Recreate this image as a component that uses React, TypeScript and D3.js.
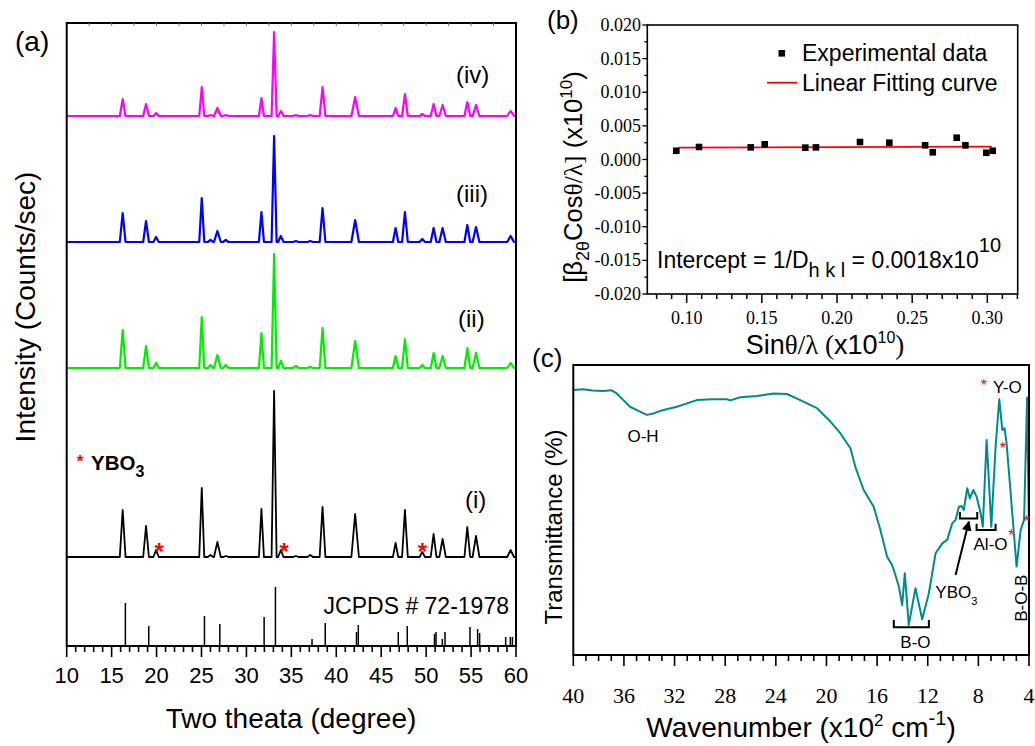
import React from "react";
import * as d3 from "d3";

const SANS = "Liberation Sans, Arial, Helvetica, sans-serif";
const SERIF = "Liberation Serif, Times New Roman, serif";

// ---------- Panel (a): XRD ----------
const peakPositions = [16.23, 18.83, 19.95, 25.03, 26.0, 26.77, 27.7, 31.67, 33.08, 33.83, 35.5, 37.1, 38.47, 42.1, 46.6, 47.64, 49.57, 50.83, 51.83, 54.58, 55.55, 59.4];
const peakHalfWidths = [0.32, 0.32, 0.3, 0.28, 0.3, 0.38, 0.3, 0.28, 0.28, 0.3, 0.3, 0.3, 0.32, 0.42, 0.3, 0.32, 0.3, 0.32, 0.36, 0.32, 0.38, 0.38];
const heightsI = [47, 31, 7, 69, 2, 15, 1, 48, 166, 7, 1, 2, 50, 43, 14, 47, 5, 23, 18, 30, 21, 7];
const heightsII = [38, 22, 5, 51, 3, 13, 3, 35, 114, 7, 2, 1, 40, 27, 12, 29, 3, 15, 12, 20, 15, 5];
const heightsIII = [29, 21, 5, 44, 2, 11, 2, 30, 106, 6, 1, 1, 34, 22, 14, 30, 3, 14, 14, 17, 15, 6];
const heightsIV = [17, 12, 3, 29, 1, 8, 1, 18, 84, 5, 1, 1, 29, 19, 8, 22, 2, 12, 11, 14, 11, 5];
const traceOffsets = [89, 278, 404, 530];
const traceColors = ["#000000", "#00ee00", "#0000ff", "#ff00ff"];
const traceLabels = ["(i)", "(ii)", "(iii)", "(iv)"];

const jcpdsPositions = [16.53, 19.13, 25.33, 27.04, 31.97, 33.23, 37.3, 38.77, 42.25, 42.45, 46.9, 47.9, 50.93, 51.1, 51.8, 52.1, 54.88, 55.73, 55.95, 58.85, 59.37, 59.6];
const jcpdsHeights = [43, 20, 30, 22, 29, 59, 7, 23, 14, 21, 14, 20, 12, 14, 7, 14, 19, 17, 13, 9, 9, 9];
const yboStarPositions = [20.3, 34.2, 49.6];
const xrdTicks = [10, 15, 20, 25, 30, 35, 40, 45, 50, 55, 60];

// ---------- Panel (b): Williamson-Hall ----------
const whX = [0.0931, 0.1082, 0.1426, 0.1519, 0.1789, 0.186, 0.2153, 0.2348, 0.2586, 0.2637, 0.2796, 0.2854, 0.2993, 0.3036];
const whY = [0.0013, 0.00186, 0.0018, 0.00226, 0.00176, 0.0018, 0.0026, 0.0025, 0.00211, 0.00107, 0.00324, 0.0021, 0.001, 0.0013];
const fitX = [0.0945, 0.303];
const fitY = [0.00178, 0.0019];
const whYTicks = [-0.02, -0.015, -0.01, -0.005, 0, 0.005, 0.01, 0.015, 0.02];
const whXTicks = [0.1, 0.15, 0.2, 0.25, 0.3];

// ---------- Panel (c): FTIR ----------
const ftirWavenumber = [40, 39.2, 38.5, 37.63, 37.0, 36.57, 36.04, 35.52, 34.73, 34.2, 33.67, 32.88, 31.82, 30.24, 29.0, 27.87, 27.6, 26.81, 25.5, 24.18, 23.12, 22.07, 20.75, 19.69, 18.9, 18.11, 17.72, 17.06, 16.27, 15.74, 15.21, 14.82, 14.68, 14.28, 14.02, 13.81, 13.5, 12.97, 12.44, 11.91, 11.38, 10.85, 10.46, 10.07, 9.8, 9.54, 9.33, 9.15, 8.88, 8.67, 8.4, 8.14, 7.82, 7.65, 7.35, 7.17, 6.98, 6.64, 6.35, 6.11, 5.93, 5.77, 5.45, 4.98, 4.66, 4.39, 4.15, 4.0];
const ftirT = [91.4, 91.6, 91.2, 91.0, 91.3, 90.2, 87.9, 85.6, 83.9, 82.8, 83.3, 84.5, 85.6, 87.9, 88.2, 88.2, 87.8, 88.9, 89.3, 90.2, 90.0, 87.9, 85.1, 80.5, 76.4, 71.3, 64.9, 56.9, 51.1, 43.1, 33.9, 31.0, 29.3, 23.6, 17.2, 28.2, 10.3, 23.0, 12.3, 21.3, 35.1, 38.5, 39.7, 45.4, 46.6, 51.1, 51.4, 50.0, 57.5, 54.0, 56.9, 54.6, 48.9, 44.2, 74.1, 60.3, 44.2, 71.8, 88.2, 77.6, 78.2, 73.0, 55.8, 30.5, 43.1, 46.6, 88.8, 42.0];
const ftirTicks = [40, 36, 32, 28, 24, 20, 16, 12, 8, 4];

// scales
const xA = d3.scaleLinear().domain([10, 60]).range([66.7, 516]);
const yA = d3.scaleLinear().domain([0, 623]).range([646, 23]);
const xB = d3.scaleLinear().domain([0.0738, 0.3202]).range([647.3, 1017.7]);
const yB = d3.scaleLinear().domain([-0.02, 0.02]).range([294, 25]);
const xC = d3.scaleLinear().domain([40, 4]).range([573.3, 1029]);
const yC = d3.scaleLinear().domain([0, 100]).range([655, 365]);

function tracePoints(heights: number[]): [number, number][] {
  const pts: [number, number][] = [[10, 0]];
  peakPositions.forEach((p, i) => {
    const w = peakHalfWidths[i];
    pts.push([p - w, 0], [p, heights[i]], [p + w, 0]);
  });
  pts.push([60, 0]);
  return pts;
}

export default function App() {
  const traces = [heightsI, heightsII, heightsIII, heightsIV];
  const minorA = d3.range(10, 60.01, 1);
  const topA = d3.range(12.5, 58, 2.5);
  const minorBx = d3.range(0.08, 0.3201, 0.01);
  const minorBy = d3.range(-0.02, 0.02001, 0.0025);
  const minorC = d3.range(4, 40.01, 1);

  const ftirLine = d3
    .line<number>()
    .x((_, i) => xC(ftirWavenumber[i]))
    .y((d) => yC(d));

  return (
    <svg
      width={1035}
      height={746}
      style={{ position: "absolute", left: 0, top: 0, background: "#fff" }}
      fontFamily={SANS}
    >
      <defs>
        <marker id="arr" viewBox="0 0 10 10" refX="9" refY="5" markerWidth="5" markerHeight="5" orient="auto">
          <path d="M0,0 L10,5 L0,10 z" fill="#000" />
        </marker>
      </defs>
      <rect x={0} y={0} width={1035} height={746} fill="#fff" />

      {/* ================= Panel (a) ================= */}
      <text x={15} y={51} fontSize={28}>(a)</text>
      {traces.map((h, k) => {
        const line = d3
          .line<[number, number]>()
          .x((d) => xA(d[0]))
          .y((d) => yA(traceOffsets[k] + d[1]));
        return (
          <path key={k} d={line(tracePoints(h)) || ""} fill="none" stroke={traceColors[k]} strokeWidth={k === 0 ? 1.8 : 2.2} strokeLinejoin="round" />
        );
      })}
      {jcpdsPositions.map((p, i) => (
        <line key={i} x1={xA(p)} x2={xA(p)} y1={yA(0)} y2={yA(jcpdsHeights[i])} stroke="#000" strokeWidth={1.5} />
      ))}
      {yboStarPositions.map((p, i) => (
        <text key={i} x={xA(p)} y={yA(traceOffsets[0] + 11) + 14} fontSize={24} fill="#ff0000" textAnchor="middle" fontWeight="bold">*</text>
      ))}
      <rect x={xA(10)} y={yA(623)} width={xA(60) - xA(10)} height={yA(0) - yA(623)} fill="none" stroke="#000" strokeWidth={2} />
      {topA.map((t) => (
        <line key={t} x1={xA(t)} x2={xA(t)} y1={yA(623)} y2={yA(623) + 3} stroke="#777" strokeWidth={1} />
      ))}
      {minorA.map((t) => (
        <line key={t} x1={xA(t)} x2={xA(t)} y1={yA(0)} y2={yA(0) + (t % 5 === 0 ? 11 : 6)} stroke="#000" strokeWidth={1.6} />
      ))}
      {xrdTicks.map((t) => (
        <text key={t} x={xA(t)} y={683} fontSize={22} textAnchor="middle">{t}</text>
      ))}
      <text x={291} y={728} fontSize={28} textAnchor="middle">Two theata (degree)</text>
      <text transform="translate(35,307) rotate(-90)" fontSize={28} textAnchor="middle">Intensity (Counts/sec)</text>
      {traceLabels.map((l, k) => (
        <text key={l} x={k === 0 ? 465 : k === 1 ? 458 : 456} y={[508, 327, 202, 83][k]} fontSize={24}>{l}</text>
      ))}
      <text x={509} y={614} fontSize={23} textAnchor="end">JCPDS # 72-1978</text>
      <text x={80} y={467} fontSize={17} fill="#ff0000" textAnchor="middle" fontWeight="bold">*</text>
      <text x={91} y={470} fontSize={20.5} fontWeight="bold">
        YBO<tspan dy={7} fontSize={16}>3</tspan>
      </text>

      {/* ================= Panel (b) ================= */}
      <text x={547} y={29} fontSize={26}>(b)</text>
      <line x1={xB(fitX[0])} x2={xB(fitX[1])} y1={yB(fitY[0])} y2={yB(fitY[1])} stroke="#ff0000" strokeWidth={1.8} />
      {whX.map((x, i) => (
        <rect key={i} x={xB(x) - 3.3} y={yB(whY[i]) - 3.3} width={6.6} height={6.6} fill="#000" />
      ))}
      <rect x={xB(0.0738)} y={yB(0.02)} width={xB(0.3202) - xB(0.0738)} height={yB(-0.02) - yB(0.02)} fill="none" stroke="#000" strokeWidth={1.6} />
      {minorBy.map((t, i) => (
        <line key={i} x1={xB(0.0738) - (i % 2 === 0 ? 5 : 3)} x2={xB(0.0738)} y1={yB(t)} y2={yB(t)} stroke="#000" strokeWidth={1.3} />
      ))}
      {minorBx.map((t, i) => (
        <line key={i} x1={xB(t)} x2={xB(t)} y1={yB(-0.02)} y2={yB(-0.02) + ((i + 8) % 5 === 0 ? 9 : 5)} stroke="#000" strokeWidth={1.5} />
      ))}
      {whYTicks.map((t) => (
        <text key={t} x={641} y={yB(t) + 6} fontSize={18} fontFamily={SERIF} textAnchor="end">{d3.format(".3f")(t).replace("−", "-")}</text>
      ))}
      {whXTicks.map((t) => (
        <text key={t} x={xB(t)} y={324} fontSize={18} fontFamily={SERIF} textAnchor="middle">{d3.format(".2f")(t)}</text>
      ))}
      {/* legend */}
      <rect x={778.5} y={50} width={6.6} height={6.6} fill="#000" />
      <text x={802} y={61} fontSize={23}>Experimental data</text>
      <line x1={767} x2={797} y1={82.7} y2={82.7} stroke="#ff0000" strokeWidth={1.8} />
      <text x={802} y={90.5} fontSize={23}>Linear Fitting curve</text>
      <text x={657} y={268} fontSize={23}>
        Intercept = 1/D<tspan dy={9} fontSize={20}>h k l</tspan>
        <tspan dy={-9}> = 0.0018x10</tspan>
        <tspan dy={-16} fontSize={20}>10</tspan>
      </text>
      <text x={825} y={354} fontSize={27} textAnchor="middle">
        Sin<tspan fontFamily={SERIF}>θ/λ (</tspan>x10<tspan dy={-11} fontSize={16}>10</tspan>
        <tspan dy={11} fontFamily={SERIF}>)</tspan>
      </text>
      <text transform="translate(582,177) rotate(-90)" fontSize={25.5} textAnchor="middle">
        [β<tspan dy={7} fontSize={18}>2θ</tspan>
        <tspan dy={-7}>Cos</tspan><tspan fontFamily={SERIF}>θ/λ]</tspan> (x10<tspan dy={-10} fontSize={17}>10</tspan>
        <tspan dy={10}>)</tspan>
      </text>

      {/* ================= Panel (c) ================= */}
      <text x={532} y={367} fontSize={26}>(c)</text>
      <path d={ftirLine(ftirT) || ""} fill="none" stroke="#008b8b" strokeWidth={2} strokeLinejoin="round" />
      <rect x={xC(40)} y={yC(100)} width={xC(4) - xC(40)} height={yC(0) - yC(100)} fill="none" stroke="#000" strokeWidth={2} />
      {minorC.map((t) => (
        <line key={t} x1={xC(t)} x2={xC(t)} y1={yC(0)} y2={yC(0) + (t % 4 === 0 ? 11 : 6)} stroke="#000" strokeWidth={1.6} />
      ))}
      {ftirTicks.map((t) => (
        <text key={t} x={xC(t)} y={703} fontSize={22} fontFamily={SERIF} textAnchor="middle">{t}</text>
      ))}
      <text x={801} y={737} fontSize={28} textAnchor="middle">
        Wavenumber (x10<tspan dy={-11} fontSize={17}>2</tspan>
        <tspan dy={11}> cm</tspan><tspan dy={-12} fontSize={20}>-1</tspan>
        <tspan dy={12}>)</tspan>
      </text>
      <text transform="translate(562,527) rotate(-90)" fontSize={24} textAnchor="middle">Transmittance (%)</text>
      {/* annotations */}
      <text x={xC(34.49)} y={yC(75.6) + 6} fontSize={17} textAnchor="middle">O-H</text>
      <path d={`M${xC(14.68)},${yC(12.1)} V${yC(9.6)} H${xC(11.91)} V${yC(12.1)}`} fill="none" stroke="#000" strokeWidth={2} />
      <text x={xC(12.97)} y={yC(4.6) + 6} fontSize={17} textAnchor="middle">B-O</text>
      <text x={xC(11.4)} y={yC(21.8) + 6} fontSize={17}>
        YBO<tspan dy={7} fontSize={11}>3</tspan>
      </text>
      <line x1={xC(9.8)} y1={yC(27.6)} x2={xC(8.75)} y2={yC(46)} stroke="#000" strokeWidth={2} markerEnd="url(#arr)" />
      <path d={`M${xC(9.46)},${yC(49.3)} V${yC(47.1)} H${xC(8.09)} V${yC(49.3)}`} fill="none" stroke="#000" strokeWidth={2} />
      <path d={`M${xC(8.14)},${yC(45.3)} V${yC(43.1)} H${xC(6.64)} V${yC(45.3)}`} fill="none" stroke="#000" strokeWidth={2} />
      <text x={xC(7.04)} y={yC(38.3) + 6} fontSize={17} textAnchor="middle">Al-O</text>
      <text x={xC(7.56)} y={yC(94.2) + 9} fontSize={16} fill="#ff0000" textAnchor="middle">*</text>
      <text x={xC(5.71)} y={yC(92.5) + 6} fontSize={17} textAnchor="middle">Y-O</text>
      <text x={xC(6.06)} y={yC(72.4) + 9} fontSize={16} fill="#ff0000" textAnchor="middle">*</text>
      <text x={xC(5.4)} y={yC(42.5) + 9} fontSize={16} fill="#ff0000" textAnchor="middle">*</text>
      <text x={xC(4.18)} y={yC(47.1) + 9} fontSize={16} fill="#ff0000" textAnchor="middle">*</text>
      <text transform={`translate(${xC(4.66) + 6},${yC(19.6)}) rotate(-90)`} fontSize={17} textAnchor="middle">B-O-B</text>
    </svg>
  );
}
